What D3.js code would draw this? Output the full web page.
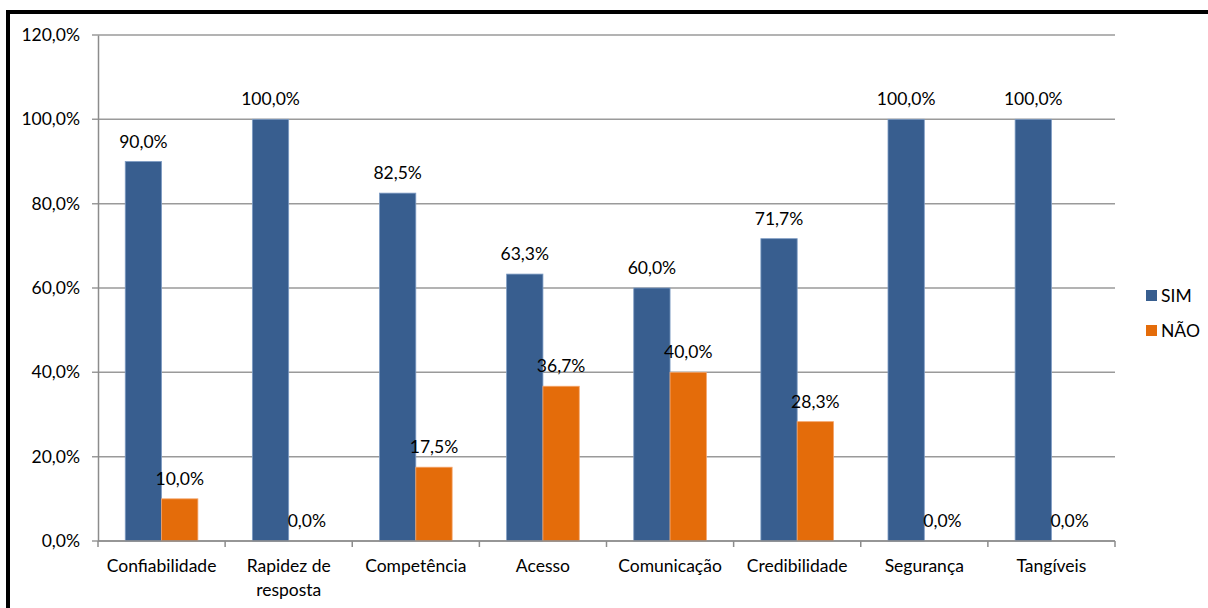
<!DOCTYPE html>
<html>
<head>
<meta charset="utf-8">
<script src="https://cdn.jsdelivr.net/npm/d3@7"></script>
<style>
  html, body { margin: 0; padding: 0; background: #fff; }
  svg { display: block; font-family: Lato, "Open Sans", sans-serif; }
</style>
</head>
<body>
<div id="chart"></div>
<script>
const categories = ["Confiabilidade", "Rapidez de resposta", "Competência", "Acesso", "Comunicação", "Credibilidade", "Segurança", "Tangíveis"];
const seriesNames = ["SIM", "NÃO"];
const simValues = [90.0, 100.0, 82.5, 63.3, 60.0, 71.7, 100.0, 100.0];
const naoValues = [10.0, 0.0, 17.5, 36.7, 40.0, 28.3, 0.0, 0.0];
const yTicks = [0, 20, 40, 60, 80, 100, 120];
const colors = ["#385E8F", "#E46C0A"];

const W = 1208, H = 608;
const m = { left: 98, right: 1115, top: 35, bottom: 541 };
const fs = 17.5;

const svg = d3.select("#chart").append("svg")
    .attr("width", W)
    .attr("height", H);

// moldura preta
svg.append("rect")
    .attr("x", 8).attr("y", 12)
    .attr("width", W + 20).attr("height", H + 20)
    .attr("fill", "none")
    .attr("stroke", "#000")
    .attr("stroke-width", 4);

const x0 = d3.scaleBand().domain(categories).range([m.left, m.right]).paddingInner(0).paddingOuter(0);
const x1 = d3.scaleBand().domain(seriesNames).range([0, x0.bandwidth()]).paddingInner(0).paddingOuter(0.75);
const y = d3.scaleLinear().domain([0, 120]).range([m.bottom, m.top]);

// grade
svg.append("g")
    .selectAll("line")
    .data(yTicks)
    .join("line")
    .attr("x1", m.left - 6).attr("x2", m.right)
    .attr("y1", d => y(d)).attr("y2", d => y(d))
    .attr("stroke", "#9a9a9a")
    .attr("stroke-width", 1.5);

// eixo Y
const yAxis = svg.append("g")
    .attr("transform", `translate(${m.left},0)`)
    .call(d3.axisLeft(y).tickValues(yTicks).tickSize(0).tickPadding(18)
        .tickFormat(d => d.toFixed(1).replace(".", ",") + "%"));
yAxis.select(".domain").attr("stroke", "#8c8c8c").attr("stroke-width", 1.5);
yAxis.selectAll("text").attr("font-size", fs).attr("fill", "#000").attr("font-family", "Lato, sans-serif");

// barras
const rows = categories.map((c, i) => ({ cat: c, vals: [simValues[i], naoValues[i]] }));
const grp = svg.append("g").selectAll("g")
    .data(rows)
    .join("g")
    .attr("transform", d => `translate(${x0(d.cat)},0)`);

grp.selectAll("rect")
    .data(d => d.vals.map((v, k) => ({ k, v })))
    .join("rect")
    .attr("x", d => x1(seriesNames[d.k]))
    .attr("width", x1.bandwidth())
    .attr("y", d => y(d.v))
    .attr("height", d => y(0) - y(d.v))
    .attr("fill", d => colors[d.k])
    .attr("stroke", d => d.k === 0 ? "#7e9cc4" : "#f4a46a")
    .attr("stroke-width", 0.8);

grp.selectAll("text")
    .data(d => d.vals.map((v, k) => ({ k, v })))
    .join("text")
    .attr("x", d => x1(seriesNames[d.k]) + x1.bandwidth() / 2)
    .attr("y", d => y(d.v) - 14)
    .attr("text-anchor", "middle")
    .attr("font-size", fs)
    .text(d => d.v.toFixed(1).replace(".", ",") + "%");

// eixo X
const xAxis = svg.append("g")
    .attr("transform", `translate(0,${m.bottom})`);
xAxis.append("line")
    .attr("x1", m.left).attr("x2", m.right)
    .attr("stroke", "#8c8c8c").attr("stroke-width", 1.5);
xAxis.selectAll(".tk")
    .data(d3.range(categories.length + 1))
    .join("line")
    .attr("class", "tk")
    .attr("x1", i => m.left + i * x0.bandwidth())
    .attr("x2", i => m.left + i * x0.bandwidth())
    .attr("y1", 0).attr("y2", 6)
    .attr("stroke", "#8c8c8c").attr("stroke-width", 1.5);

const wrapLabels = { "Rapidez de resposta": ["Rapidez de", "resposta"] };
xAxis.selectAll(".lbl")
    .data(categories)
    .join("text")
    .attr("class", "lbl")
    .attr("text-anchor", "middle")
    .attr("font-size", fs)
    .each(function (c) {
        const lines = wrapLabels[c] || [c];
        d3.select(this).selectAll("tspan")
            .data(lines)
            .join("tspan")
            .attr("x", x0(c) + x0.bandwidth() / 2)
            .attr("y", (l, i) => 31 + i * 24)
            .text(l => l);
    });

// legenda
const leg = svg.append("g").attr("transform", "translate(1146,290)");
seriesNames.forEach((s, i) => {
    leg.append("rect")
        .attr("x", 0).attr("y", i * 35)
        .attr("width", 11).attr("height", 11)
        .attr("fill", colors[i]);
    leg.append("text")
        .attr("x", 15).attr("y", i * 35 + 11.5)
        .attr("font-size", fs)
        .text(s);
});
</script>
</body>
</html>
